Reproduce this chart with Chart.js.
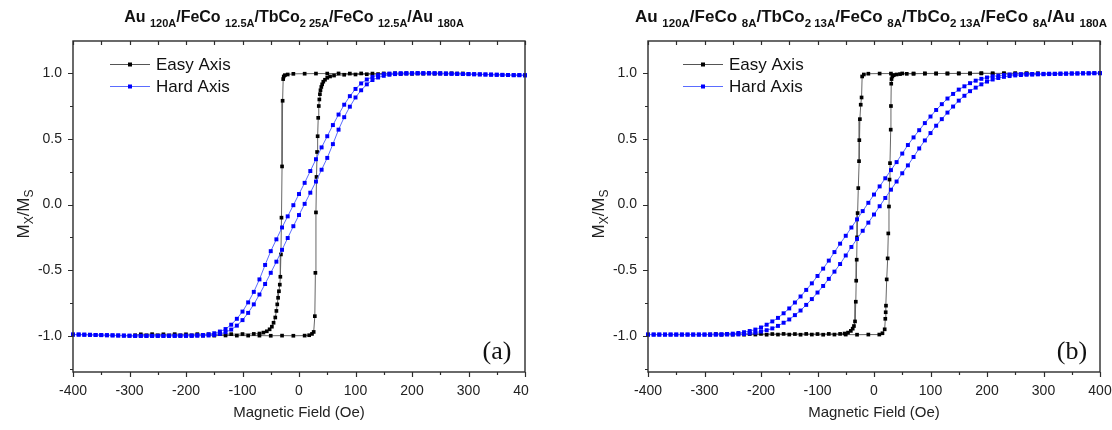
<!DOCTYPE html>
<html>
<head>
<meta charset="utf-8">
<script src="https://cdn.jsdelivr.net/npm/chart.js@4/dist/chart.umd.min.js"></script>
<style>
  html, body { margin: 0; padding: 0; background: #fff; }
  #wrap { position: relative; width: 1112px; height: 430px; overflow: hidden; background: #fff; }
  #wrap canvas { position: absolute; top: 0; }
  #cA { left: 0; }
  #cB { left: 529px; }
</style>
</head>
<body>
<div id="wrap">
  <canvas id="cA" width="529" height="430"></canvas>
  <canvas id="cB" width="583" height="430"></canvas>
</div>
<script>
// ---- axis ticks ----
const xTickLabels = [-400, -300, -200, -100, 0, 100, 200, 300, 400];
const xMinorTicks = [-350, -250, -150, -50, 50, 150, 250, 350];
const yTickLabels = [-1.0, -0.5, 0.0, 0.5, 1.0];
const yMinorTicks = [-1.25, -0.75, -0.25, 0.25, 0.75];

// ---- titles ([text, isSubscript]) ----
const titleA = [['Au ', 0], ['120A', 1], ['/FeCo ', 0], ['12.5A', 1], ['/TbCo', 0], ['2 25A', 1],
                ['/FeCo ', 0], ['12.5A', 1], ['/Au ', 0], ['180A', 1]];
const titleB = [['Au ', 0], ['120A', 1], ['/FeCo ', 0], ['8A', 1], ['/TbCo', 0], ['2 13A', 1],
                ['/FeCo ', 0], ['8A', 1], ['/TbCo', 0], ['2 13A', 1], ['/FeCo ', 0], ['8A', 1],
                ['/Au ', 0], ['180A', 1]];
const yTitle = [['M', 0], ['X', 1], ['/M', 0], ['S', 1]];
const xTitle = 'Magnetic Field (Oe)';
const seriesNames = ['Easy Axis', 'Hard Axis'];

// ---- hard axis field sweep (Oe) ----
const hardField = [-400,-390,-380,-370,-360,-350,-340,-330,-320,-310,-300,-290,-280,-270,-260,-250,-240,-230,-220,-210,
  -200,-190,-180,-170,-160,-150,-140,-130,-120,-110,-100,-90,-80,-70,-60,-50,-40,-30,-20,-10,
  0,10,20,30,40,50,60,70,80,90,100,110,120,130,140,150,160,170,180,190,
  200,210,220,230,240,250,260,270,280,290,300,310,320,330,340,350,360,370,380,390,400];

// ---- panel (a): hard axis, decreasing-field branch (listed by field, low to high) ----
const hardA_down = [-0.99,-0.99,-0.991,-0.992,-0.993,-0.994,-0.995,-0.996,-0.997,-0.998,-0.999,
  -1.0,-1.0,-1.0,-1.0,-1.0,-1.0,
  -0.999,-0.999,-0.998,-0.998,-0.997,-0.995,-0.993,-0.988,-0.98,-0.967,-0.948,-0.915,-0.87,-0.815,
  -0.745,-0.665,-0.57,-0.46,-0.355,-0.265,-0.175,-0.09,-0.005,
  0.08,0.165,0.255,0.345,0.435,0.52,0.605,0.685,0.76,0.825,0.88,0.922,0.952,0.972,0.985,0.993,0.997,0.999,1.0,1.0,
  1.0,1.0,1.0,0.999,0.999,0.998,0.997,0.996,0.995,0.994,0.993,0.992,0.991,0.99,0.989,0.988,0.987,0.986,0.985,0.985,0.984];
// ---- panel (a): hard axis, increasing-field branch ----
const hardA_up = [-0.99,-0.99,-0.991,-0.992,-0.993,-0.994,-0.995,-0.996,-0.997,-0.998,-0.999,
  -1.0,-1.0,-1.0,-1.0,-1.0,-1.0,
  -1.0,-1.0,-1.0,-1.0,-1.0,-0.999,-0.999,-0.997,-0.993,-0.985,-0.972,-0.952,-0.922,-0.88,
  -0.825,-0.76,-0.685,-0.605,-0.52,-0.435,-0.345,-0.255,-0.165,
  -0.08,0.005,0.09,0.175,0.265,0.355,0.46,0.57,0.665,0.745,0.815,0.87,0.915,0.948,0.967,0.98,0.988,0.993,0.995,0.997,
  0.998,0.999,0.999,0.999,0.999,0.998,0.997,0.996,0.995,0.994,0.993,0.992,0.991,0.99,0.989,0.988,0.987,0.986,0.985,0.985,0.984];

// ---- panel (a): easy axis ----
const easyA_downH = [290,270,250,230,210,190,170,150,130,110,90,70,50,30,10,
  -10,-20,-25,-27,-28,-29,-30,-31,-32,-33,-34,-35.5,-37,-38.5,-40,-42,-45,-48,-52,-57,
  -63,-70,-80,-100,-120,-140,-160,-180,-200,-220,-240,-260,-280];
const easyA_downM = [0.998,0.999,0.998,0.999,0.998,0.998,0.999,0.998,0.997,0.998,0.997,0.998,0.997,0.997,0.996,
  0.995,0.99,0.985,0.975,0.955,0.79,0.29,-0.10,-0.38,-0.55,-0.61,-0.66,-0.71,-0.76,-0.81,-0.86,-0.90,-0.93,-0.95,-0.965,
  -0.975,-0.982,-0.985,-0.986,-0.987,-0.987,-0.988,-0.987,-0.988,-0.987,-0.988,-0.987,-0.988];
const easyA_upH = [-290,-270,-250,-230,-210,-190,-170,-150,-130,-110,-90,-70,-50,-30,-10,
  10,18,23,26,28,29,30,31,32,33,34,35,36,37,38,39.5,41,43,46,50,55,
  62,80,100,120,140,160,180,200,220,240,260,280];
const easyA_upM = [-0.995,-0.996,-0.996,-0.997,-0.996,-0.997,-0.997,-0.998,-0.997,-0.998,-0.998,-0.998,-0.999,-0.998,-0.999,
  -0.998,-0.995,-0.985,-0.97,-0.85,-0.52,-0.06,0.21,0.40,0.52,0.66,0.75,0.80,0.84,0.87,0.895,0.915,0.935,0.95,0.965,0.975,
  0.982,0.988,0.99,0.992,0.993,0.994,0.995,0.995,0.996,0.996,0.996,0.997];

// ---- panel (b): hard axis ----
const hardB_down = [-0.99,-0.99,-0.99,-0.99,-0.99,-0.99,-0.99,-0.99,-0.99,-0.99,-0.99,-0.99,-0.989,-0.988,-0.986,-0.983,-0.978,-0.972,-0.963,-0.952,
  -0.936,-0.915,-0.89,-0.863,-0.828,-0.791,-0.746,-0.70,-0.65,-0.60,-0.544,-0.488,-0.427,-0.362,-0.298,-0.238,-0.175,-0.113,-0.05,0.013,
  0.076,0.138,0.20,0.262,0.323,0.388,0.453,0.511,0.566,0.62,0.67,0.72,0.764,0.807,0.842,0.875,0.90,0.924,0.943,0.957,
  0.967,0.976,0.981,0.986,0.99,0.992,0.993,0.994,0.994,0.995,0.995,0.996,0.996,0.997,0.997,0.998,0.998,0.999,0.999,1.0,1.0];
const hardB_up = [-0.99,-0.99,-0.99,-0.99,-0.99,-0.99,-0.99,-0.99,-0.99,-0.99,-0.99,-0.99,-0.99,-0.99,-0.99,-0.99,-0.989,-0.986,-0.981,-0.976,
  -0.967,-0.957,-0.943,-0.924,-0.90,-0.875,-0.842,-0.807,-0.764,-0.72,-0.67,-0.62,-0.566,-0.511,-0.453,-0.388,-0.323,-0.262,-0.20,-0.138,
  -0.076,-0.013,0.05,0.113,0.175,0.238,0.298,0.362,0.427,0.488,0.544,0.60,0.65,0.70,0.746,0.791,0.828,0.863,0.89,0.915,
  0.936,0.952,0.963,0.972,0.978,0.983,0.986,0.988,0.989,0.991,0.992,0.993,0.994,0.995,0.996,0.997,0.998,0.999,0.999,1.0,1.0];

// ---- panel (b): easy axis ----
const easyB_downH = [290,270,250,230,210,190,170,150,130,110,90,70,50,30,10,
  -10,-18,-21,-22,-23.5,-25,-26,-26.5,-27.8,-29,-30,-30.6,-31.5,-32.2,-33.6,-35.5,-37.7,-41,-46,-52,
  -60,-80,-100,-120,-140,-160,-180,-200,-220,-240,-260,-280];
const easyB_downM = [0.998,0.998,0.999,0.998,0.998,0.999,0.998,0.998,0.997,0.998,0.998,0.997,0.998,0.997,0.997,
  0.996,0.99,0.975,0.815,0.76,0.65,0.49,0.33,0.125,-0.065,-0.25,-0.42,-0.58,-0.74,-0.89,-0.925,-0.945,-0.962,-0.975,-0.982,
  -0.985,-0.985,-0.986,-0.985,-0.986,-0.985,-0.986,-0.985,-0.986,-0.985,-0.985,-0.986];
const easyB_upH = [-290,-270,-250,-230,-210,-190,-170,-150,-130,-110,-90,-70,-50,-30,-10,
  9.4,15,18.9,20,20.7,21.2,22.5,24.2,25.3,26.5,27.5,28.3,29.6,30,30.5,31,32.5,35,40,46,
  58,70,90,110,130,150,170,190,210,230,250,270,290];
const easyB_upM = [-0.99,-0.991,-0.99,-0.991,-0.99,-0.991,-0.99,-0.99,-0.991,-0.99,-0.991,-0.99,-0.99,-0.991,-0.99,
  -0.99,-0.98,-0.95,-0.87,-0.82,-0.77,-0.57,-0.41,-0.22,-0.015,0.19,0.315,0.57,0.75,0.92,0.955,0.975,0.985,0.99,0.993,
  0.995,0.996,0.997,0.997,0.998,0.998,0.998,0.999,0.998,0.999,0.998,0.999,0.998];

// ---- helpers ----
const SANS = '"Liberation Sans", Arial, sans-serif';
const SERIF = '"Liberation Serif", "Times New Roman", serif';

function pts(hs, ms) { return hs.map((h, i) => ({ x: h, y: ms[i] })); }

function loop(downH, downM, upH, upM) {
  return pts(downH, downM).concat(pts(upH, upM));
}
function hardLoop(down, up) {
  return pts(hardField, down).reverse().concat(pts(hardField, up));
}

function drawRich(ctx, parts, cx, base, font, mainPx, subPx, drop) {
  const f0 = font.replace('{s}', mainPx), f1 = font.replace('{s}', subPx);
  let w = 0;
  parts.forEach(p => { ctx.font = p[1] ? f1 : f0; w += ctx.measureText(p[0]).width; });
  let x = cx - w / 2;
  ctx.textAlign = 'left';
  ctx.textBaseline = 'alphabetic';
  parts.forEach(p => {
    ctx.font = p[1] ? f1 : f0;
    ctx.fillText(p[0], x, base + (p[1] ? drop : 0));
    x += ctx.measureText(p[0]).width;
  });
}

const framePlugin = {
  id: 'frame',
  afterDraw(chart) {
    const c = chart.options.plugins.frame;
    const ctx = chart.ctx, a = chart.chartArea;
    const xs = chart.scales.x, ys = chart.scales.y;
    ctx.save();
    ctx.strokeStyle = '#2b2b2b';
    ctx.lineWidth = 1.4;
    ctx.strokeRect(a.left, a.top, a.right - a.left, a.bottom - a.top);
    ctx.lineWidth = 1.2;
    ctx.beginPath();
    xTickLabels.forEach(v => {
      const px = Math.round(xs.getPixelForValue(v)) + 0.5;
      ctx.moveTo(px, a.bottom); ctx.lineTo(px, a.bottom + 5);
      ctx.moveTo(px, a.top); ctx.lineTo(px, a.top + 4);
    });
    xMinorTicks.forEach(v => {
      const px = Math.round(xs.getPixelForValue(v)) + 0.5;
      ctx.moveTo(px, a.bottom); ctx.lineTo(px, a.bottom + 3);
      ctx.moveTo(px, a.top); ctx.lineTo(px, a.top + 4);
    });
    yTickLabels.forEach(v => {
      const py = Math.round(ys.getPixelForValue(v)) + 0.5;
      ctx.moveTo(a.left, py); ctx.lineTo(a.left - 5, py);
    });
    yMinorTicks.forEach(v => {
      const py = Math.round(ys.getPixelForValue(v)) + 0.5;
      ctx.moveTo(a.left, py); ctx.lineTo(a.left - 3, py);
    });
    ctx.stroke();

    ctx.fillStyle = '#111';
    // chart title
    drawRich(ctx, c.title, c.titleX, 22, 'bold {s}px ' + SANS, c.titleMain, c.titleSub, 5);
    // x axis title
    ctx.font = '15px ' + SANS;
    ctx.textAlign = 'center';
    ctx.textBaseline = 'alphabetic';
    ctx.fillStyle = '#222';
    ctx.fillText(xTitle, (a.left + a.right) / 2, 417);
    // y axis title
    ctx.save();
    ctx.translate(c.yTitleX, 214);
    ctx.rotate(-Math.PI / 2);
    drawRich(ctx, yTitle, 0, 0, '{s}px ' + SANS, 17, 12, 4);
    ctx.restore();

    // legend
    const rows = [
      { y: 64, line: '#555', fill: '#000', name: seriesNames[0] },
      { y: 86, line: '#5a6cff', fill: '#0000ff', name: seriesNames[1] }
    ];
    rows.forEach(r => {
      ctx.strokeStyle = r.line;
      ctx.lineWidth = 1;
      ctx.beginPath();
      ctx.moveTo(c.legX, r.y + 0.5); ctx.lineTo(c.legX + 40, r.y + 0.5);
      ctx.stroke();
      ctx.fillStyle = r.fill;
      ctx.fillRect(c.legX + 18, r.y - 1.5, 4, 4);
      ctx.fillStyle = '#111';
      ctx.font = '17px ' + SANS;
      ctx.textAlign = 'left';
      ctx.textBaseline = 'alphabetic';
      ctx.fillText(r.name, c.legX + 46, r.y + 5.5);
    });

    // panel letter
    ctx.font = '26px ' + SERIF;
    ctx.textAlign = 'center';
    ctx.fillStyle = '#111';
    ctx.fillText(c.letter, c.letterX, 359);
    ctx.restore();
  }
};

function makeChart(id, easyData, hardData, yWidth, padRight, frame) {
  return new Chart(document.getElementById(id), {
    type: 'scatter',
    data: {
      datasets: [
        {
          label: seriesNames[0], data: easyData, showLine: true, order: 1,
          borderColor: '#666', borderWidth: 1, backgroundColor: '#000',
          pointStyle: 'rect', pointRadius: 2.6, pointBorderWidth: 0, pointBackgroundColor: '#000',
          clip: false
        },
        {
          label: seriesNames[1], data: hardData, showLine: true, order: 0,
          borderColor: '#5a6cff', borderWidth: 1, backgroundColor: '#0000ff',
          pointStyle: 'rect', pointRadius: 2.8, pointBorderWidth: 0, pointBackgroundColor: '#0000ff',
          clip: false
        }
      ]
    },
    options: {
      responsive: false,
      animation: false,
      events: [],
      layout: { padding: { left: 0, right: padRight, top: 41, bottom: 0 } },
      plugins: { legend: { display: false }, tooltip: { enabled: false }, frame: frame },
      scales: {
        x: {
          type: 'linear', min: -400, max: 400,
          grid: { display: false, drawTicks: false }, border: { display: false },
          afterBuildTicks(s) { s.ticks = xTickLabels.map(v => ({ value: v })); },
          afterFit(s) { s.height = 58; s.paddingLeft = 0; s.paddingRight = 0; },
          ticks: {
            padding: 11, maxRotation: 0, autoSkip: false, color: '#222',
            font: { family: SANS, size: 14 },
            callback: v => String(v)
          }
        },
        y: {
          type: 'linear', min: -1.275, max: 1.245,
          grid: { display: false, drawTicks: false }, border: { display: false },
          afterBuildTicks(s) { s.ticks = yTickLabels.map(v => ({ value: v })); },
          afterFit(s) { s.width = yWidth; s.paddingTop = 0; s.paddingBottom = 0; },
          ticks: {
            padding: 11, autoSkip: false, color: '#222',
            font: { family: SANS, size: 14 },
            callback: v => Number(v).toFixed(1)
          }
        }
      }
    },
    plugins: [framePlugin]
  });
}

makeChart('cA',
  loop(easyA_downH, easyA_downM, easyA_upH, easyA_upM),
  hardLoop(hardA_down, hardA_up),
  73, 4,
  { title: titleA, titleX: 294, titleMain: 16, titleSub: 11, yTitleX: 29, legX: 110, letter: '(a)', letterX: 497 });

makeChart('cB',
  loop(easyB_downH, easyB_downM, easyB_upH, easyB_upM),
  hardLoop(hardB_down, hardB_up),
  119, 12,
  { title: titleB, titleX: 342, titleMain: 17, titleSub: 11.5, yTitleX: 75, legX: 154, letter: '(b)', letterX: 543 });
</script>
</body>
</html>
